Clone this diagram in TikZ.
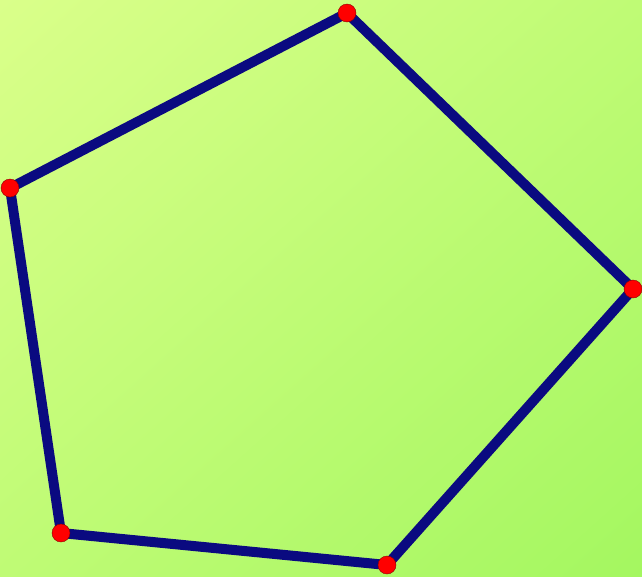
\documentclass[tikz,border=0pt]{standalone}
\usepackage{xcolor}
\usepackage{tikz}
\usetikzlibrary{shadings}

\definecolor{bgtl}{RGB}{218,255,138}
\definecolor{bgbr}{RGB}{164,247,96}
\definecolor{bgmid}{RGB}{191,251,117}
\definecolor{edgeblue}{RGB}{10,10,128}

\begin{document}
\begin{tikzpicture}[
    x=1pt, y=-1pt,
    side/.style={line width=10pt,edgeblue,line join=round},
    vdot/.style={circle,fill=red,draw=red!55!black,thin,
                 minimum size=18pt,inner sep=0pt},
  ]

  % --- background ---
  \useasboundingbox (0,0) rectangle (642,576);
  \shade[upper left=bgtl,lower right=bgbr,upper right=bgmid,lower left=bgmid]
    (0,0) rectangle (642,576);

  % --- corners ---
  \coordinate (top)   at (347,13);
  \coordinate (right) at (633,289);
  \coordinate (bot)   at (387,565);
  \coordinate (botl)  at (61,533);
  \coordinate (left)  at (10,188);

  % --- pentagon ---
  \draw[side] (top) -- (right) -- (bot) -- (botl) -- (left) -- cycle;

  % --- vertex dots ---
  \foreach \v in {top,right,bot,botl,left} {
    \node[vdot] (d-\v) at (\v) {};
  }

\end{tikzpicture}
\end{document}
